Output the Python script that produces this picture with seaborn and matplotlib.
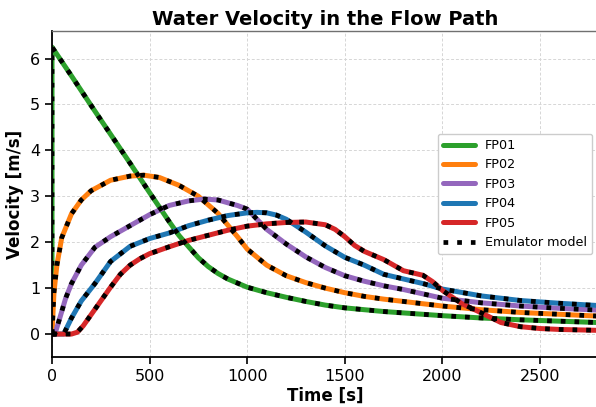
"""water velocity along the flow paths, raw vs emulator model
"""
import matplotlib as mpl
import matplotlib.pyplot as plt
import seaborn as sns
import numpy as np
import pandas as pd
from matplotlib.lines import Line2D

# values
t_fp01 = [0, 0, 100, 200, 300, 400, 500, 600, 650, 700, 750, 800, 850, 900, 1000, 1100,
          1200, 1300, 1400, 1500, 1600, 1700, 1800, 1900, 2000, 2200, 2400, 2600, 2800]
v_fp01 = [0, 6.25, 5.62, 4.98, 4.35, 3.72, 3.08, 2.45, 2.15, 1.9, 1.66, 1.47, 1.32, 1.2, 1.02, 0.9,
          0.8, 0.71, 0.63, 0.57, 0.53, 0.49, 0.46, 0.43, 0.40, 0.35, 0.31, 0.28, 0.25]

t_fp02 = [0, 10, 25, 50, 100, 150, 200, 300, 400, 470, 550, 650, 750, 850, 950, 1000, 1100,
          1200, 1300, 1400, 1500, 1600, 1700, 1800, 2000, 2200, 2400, 2600, 2800]
v_fp02 = [0, 0.9, 1.5, 2.1, 2.62, 2.92, 3.12, 3.35, 3.44, 3.46, 3.41, 3.24, 3.0, 2.63, 2.12, 1.85, 1.5,
          1.27, 1.12, 1.0, 0.9, 0.82, 0.76, 0.71, 0.61, 0.53, 0.47, 0.43, 0.39]

t_fp03 = [0, 15, 40, 70, 100, 150, 220, 300, 400, 500, 600, 700, 780, 850, 950, 1000, 1100,
          1200, 1300, 1400, 1500, 1600, 1700, 1800, 2000, 2200, 2400, 2600, 2800]
v_fp03 = [0, 0, 0.35, 0.78, 1.1, 1.5, 1.89, 2.12, 2.36, 2.6, 2.8, 2.9, 2.94, 2.92, 2.8, 2.72, 2.28,
          1.96, 1.68, 1.45, 1.27, 1.15, 1.05, 0.97, 0.78, 0.68, 0.61, 0.56, 0.52]

t_fp04 = [0, 60, 100, 150, 220, 300, 400, 500, 600, 700, 800, 900, 1000, 1050, 1100, 1150,
          1200, 1300, 1400, 1500, 1600, 1700, 1800, 1900, 2000, 2200, 2400, 2600, 2800]
v_fp04 = [0, 0, 0.35, 0.72, 1.1, 1.58, 1.91, 2.08, 2.2, 2.36, 2.48, 2.58, 2.64, 2.65, 2.64, 2.59,
          2.5, 2.22, 1.92, 1.67, 1.5, 1.3, 1.2, 1.1, 0.98, 0.83, 0.73, 0.67, 0.62]

t_fp05 = [0, 100, 130, 160, 200, 250, 300, 350, 400, 450, 500, 600, 700, 800, 900, 1000, 1100,
          1200, 1300, 1400, 1450, 1500, 1550, 1600, 1700, 1800, 1900, 1950, 2000, 2100, 2200,
          2300, 2400, 2500, 2600, 2800]
v_fp05 = [0, 0, 0.04, 0.18, 0.42, 0.72, 1.02, 1.3, 1.5, 1.64, 1.75, 1.9, 2.04, 2.15, 2.26, 2.35, 2.4,
          2.43, 2.44, 2.38, 2.28, 2.12, 1.93, 1.8, 1.62, 1.38, 1.28, 1.14, 0.95, 0.66, 0.46,
          0.25, 0.16, 0.12, 0.1, 0.08]

series_names = ["FP01", "FP02", "FP03", "FP04", "FP05"]
series_colors = ["#2ca02c", "#ff7f0e", "#9467bd", "#1f77b4", "#d62728"]
times = [t_fp01, t_fp02, t_fp03, t_fp04, t_fp05]
vels = [v_fp01, v_fp02, v_fp03, v_fp04, v_fp05]

frames = []
for name, t, v in zip(series_names, times, vels):
    frames.append(pd.DataFrame({"series": name, "Time": t, "Velocity": v}))
flow_df = pd.concat(frames, ignore_index=True)
# emulator overlays the same curves
emu_df = flow_df.copy()

sns.set_style("ticks")
mpl.rcParams['font.family'] = ['DejaVu Sans']
mpl.rcParams['text.color'] = 'black'
mpl.rcParams['axes.labelcolor'] = 'black'
mpl.rcParams['xtick.color'] = 'black'
mpl.rcParams['ytick.color'] = 'black'

dot_style = (0, (1, 1.9))

fig = plt.figure(figsize=(5.96, 4.07), dpi=100)
ax = fig.add_axes([52/596, 50/407, (598.6-52)/596, 326/407])

sns.lineplot(data=flow_df, x="Time", y="Velocity", hue="series", palette=series_colors,
             hue_order=series_names, estimator=None, sort=False, lw=3.6, legend=False, ax=ax)
for name in series_names:
    sub = emu_df[emu_df["series"] == name]
    sns.lineplot(data=sub, x="Time", y="Velocity", estimator=None, sort=False, color="black",
                 lw=3.4, ls=dot_style, dash_capstyle="butt", ax=ax, legend=False)

ax.set_xlim(0, 2800)
ax.set_ylim(-0.5, 6.6)
ax.set_xticks(np.arange(0, 2501, 500))
ax.set_yticks(np.arange(0, 7, 1))
ax.grid(True, ls=(0, (3, 2)), color="#d6d6d6", lw=0.7)
ax.tick_params(labelsize=11.5, length=5, width=1.2, color="black")
for side in ["left", "bottom"]:
    ax.spines[side].set_color("black")
    ax.spines[side].set_linewidth(1.3)
ax.spines["top"].set_color("#707070")
ax.spines["top"].set_linewidth(1.0)

legend_elements = [Line2D([0], [0], color=c, lw=3.6) for c in series_colors]
legend_elements.append(Line2D([0], [0], color="black", lw=3.4, ls=dot_style, dash_capstyle="butt"))
ax.legend(handles=legend_elements, labels=series_names + ["Emulator model"], loc="center right",
          fontsize=9.2, handlelength=2.5, framealpha=1)

ax.set_title("Water Velocity in the Flow Path", fontsize=14, fontweight="bold", pad=4)
ax.set_xlabel("Time [s]", fontsize=12, fontweight="bold", labelpad=2)
ax.set_ylabel("Velocity [m/s]", fontsize=12, fontweight="bold")

plt.savefig("out.png", dpi=100)
